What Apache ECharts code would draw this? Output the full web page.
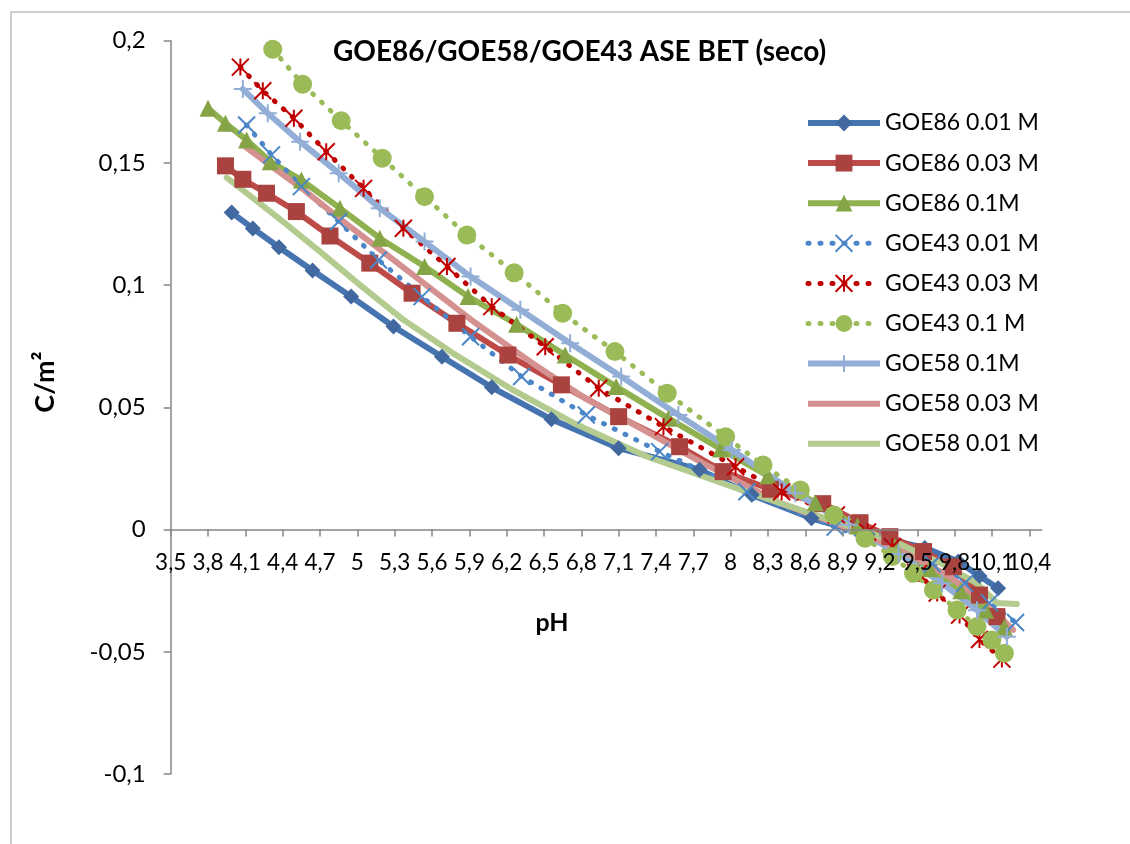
<!DOCTYPE html>
<html>
<head>
<meta charset="utf-8">
<script src="https://cdn.jsdelivr.net/npm/echarts@6/dist/echarts.min.js"></script>
<style>
  html, body { margin: 0; padding: 0; background: #ffffff; }
  #chart { width: 1130px; height: 844px; }
</style>
</head>
<body>
<div id="chart"></div>
<script>
// Surface charge density C/m² against pH, pairs of [pH, C/m²]
const goe86_001 = [[3.99,0.1297],[4.16,0.1232],[4.37,0.1155],[4.64,0.1060],[4.95,0.0953],[5.29,0.0831],[5.68,0.0707],[6.08,0.0582],[6.56,0.0451],[7.10,0.0333],[7.75,0.0245],[8.17,0.0142],[8.65,0.0046],[9.10,-0.0020],[9.56,-0.0075],[9.83,-0.0131],[10.00,-0.0190],[10.15,-0.0240]];
const goe86_003 = [[3.94,0.1488],[4.08,0.1433],[4.27,0.1376],[4.51,0.1301],[4.78,0.1201],[5.10,0.1090],[5.44,0.0967],[5.80,0.0844],[6.21,0.0714],[6.64,0.0592],[7.10,0.0462],[7.59,0.0339],[7.94,0.0237],[8.32,0.0165],[8.74,0.0106],[9.04,0.0028],[9.28,-0.0029],[9.55,-0.0090],[9.79,-0.0152],[10.00,-0.0268],[10.14,-0.0356]];
const goe86_01 = [[3.80,0.1724],[3.94,0.1662],[4.11,0.1594],[4.30,0.1505],[4.55,0.1430],[4.86,0.1315],[5.18,0.1192],[5.54,0.1076],[5.89,0.0953],[6.28,0.0840],[6.67,0.0714],[7.08,0.0585],[7.50,0.0455],[7.92,0.0330],[8.30,0.0220],[8.68,0.0110],[9.02,0.0015],[9.32,-0.0070],[9.60,-0.0160],[9.85,-0.0250],[10.05,-0.0330],[10.20,-0.0400]];
const goe43_001 = [[4.11,0.1655],[4.31,0.1533],[4.55,0.1403],[4.85,0.1260],[5.17,0.1103],[5.52,0.0953],[5.91,0.0789],[6.32,0.0626],[6.84,0.0469],[7.43,0.0319],[8.13,0.0155],[8.84,0.0010],[9.30,-0.0070],[9.62,-0.0140],[9.88,-0.0220],[10.08,-0.0300],[10.29,-0.0380]];
const goe43_003 = [[4.06,0.1892],[4.24,0.1795],[4.49,0.1683],[4.75,0.1546],[5.05,0.1396],[5.37,0.1233],[5.72,0.1076],[6.08,0.0912],[6.51,0.0748],[6.94,0.0578],[7.46,0.0421],[8.04,0.0257],[8.41,0.0155],[8.85,0.0060],[9.10,-0.0010],[9.30,-0.0070],[9.51,-0.0180],[9.66,-0.0260],[9.84,-0.0350],[10.00,-0.0450],[10.18,-0.0530]];
const goe43_01 = [[4.32,0.1965],[4.56,0.1822],[4.87,0.1673],[5.20,0.1519],[5.54,0.1362],[5.88,0.1205],[6.26,0.1051],[6.65,0.0885],[7.07,0.0728],[7.49,0.0558],[7.96,0.0380],[8.26,0.0264],[8.56,0.0162],[8.83,0.0060],[9.08,-0.0036],[9.30,-0.0110],[9.47,-0.0179],[9.63,-0.0247],[9.82,-0.0329],[9.98,-0.0397],[10.10,-0.0452],[10.20,-0.0506]];
const goe58_01 = [[4.08,0.1802],[4.28,0.1703],[4.54,0.1587],[4.85,0.1458],[5.18,0.1315],[5.54,0.1178],[5.91,0.1035],[6.31,0.0899],[6.71,0.0762],[7.12,0.0626],[7.58,0.0469],[8.01,0.0326],[8.52,0.0149],[8.95,0.0020],[9.35,-0.0100],[9.70,-0.0220],[9.98,-0.0330],[10.22,-0.0438]];
const goe58_003 = [[4.08,0.1574],[4.30,0.1490],[4.57,0.1390],[4.87,0.1267],[5.22,0.1131],[5.57,0.0994],[5.95,0.0845],[6.39,0.0687],[6.83,0.0537],[7.30,0.0408],[7.78,0.0271],[8.40,0.0108],[8.95,0.0005],[9.40,-0.0090],[9.75,-0.0190],[10.05,-0.0300],[10.27,-0.0410]];
const goe58_001 = [[3.95,0.1440],[4.18,0.1349],[4.42,0.1253],[4.70,0.1137],[5.02,0.1001],[5.37,0.0858],[5.77,0.0721],[6.25,0.0571],[6.74,0.0435],[7.33,0.0298],[8.16,0.0149],[8.80,0.0040],[9.30,-0.0045],[9.70,-0.0140],[9.98,-0.0220],[10.14,-0.0300],[10.30,-0.0305]];

const seriesNames = ['GOE86 0.01 M','GOE86 0.03 M','GOE86 0.1M','GOE43 0.01 M','GOE43 0.03 M','GOE43 0.1 M','GOE58 0.1M','GOE58 0.03 M','GOE58 0.01 M'];

// axis ranges
const xMin = 3.5, xMax = 10.5, xStep = 0.3;
const yMin = -0.1, yMax = 0.2, yStep = 0.05;

// plot box
const W = 1130, H = 844;
const gridLeft = 170.7, gridRight = 88.3, gridTop = 40.7, gridBottom = 70;
const plotH = H - gridTop - gridBottom;
// the pH axis sits on C = 0: shift it up from the bottom edge
const xAxisOffset = -((0 - yMin) / (yMax - yMin)) * plotH;

const FONT = 'Lato';
const commaDec = v => String(+(+v).toFixed(3)).replace('.', ',');

const DOT = [1, 11];
const solid = (color, w) => ({ color: color, width: w || 6, type: 'solid', cap: 'round', join: 'round' });
const dotted = color => ({ color: color, width: 5, type: DOT, cap: 'round', join: 'round' });

const crossSym = 'path://M0,0L10,10M10,0L0,10';
const starSym = 'path://M5,0L5,10M0,0L10,10M10,0L0,10';
const plusSym = 'path://M5,0L5,10M0,5L10,5';
const hidden = { color: 'rgba(0,0,0,0)', borderWidth: 0 };

const series = [
  { name: seriesNames[0], data: goe86_001, symbol: 'diamond', symbolSize: 16,
    lineStyle: solid('#4674B0'), itemStyle: { color: '#41699F' } },
  { name: seriesNames[1], data: goe86_003, symbol: 'rect', symbolSize: 17,
    lineStyle: solid('#BE4B48'), itemStyle: { color: '#AA4340' } },
  { name: seriesNames[2], data: goe86_01, symbol: 'triangle', symbolSize: 17,
    lineStyle: solid('#8FB150'), itemStyle: { color: '#84A446' } },
  { name: seriesNames[3], data: goe43_001, symbol: crossSym, symbolSize: 17,
    lineStyle: dotted('#4A86C8'), itemStyle: { color: 'rgba(0,0,0,0)', borderColor: '#4A86C8', borderWidth: 2 } },
  { name: seriesNames[4], data: goe43_003, symbol: starSym, symbolSize: 17,
    lineStyle: dotted('#C00000'), itemStyle: { color: 'rgba(0,0,0,0)', borderColor: '#C00000', borderWidth: 2 } },
  { name: seriesNames[5], data: goe43_01, symbol: 'circle', symbolSize: 19,
    lineStyle: dotted('#9BBB59'), itemStyle: { color: '#9BBB59' } },
  { name: seriesNames[6], data: goe58_01, symbol: plusSym, symbolSize: 18,
    lineStyle: solid('#93AED6'), itemStyle: { color: 'rgba(0,0,0,0)', borderColor: '#93AED6', borderWidth: 2 } },
  { name: seriesNames[7], data: goe58_003, symbol: 'circle', symbolSize: 1, showSymbol: false,
    lineStyle: solid('#D4918F'), itemStyle: hidden },
  { name: seriesNames[8], data: goe58_001, symbol: 'circle', symbolSize: 1, showSymbol: false,
    lineStyle: solid('#B3CB8E'), itemStyle: hidden }
].map(s => Object.assign({ type: 'line', showSymbol: true, animation: false, emphasis: { disabled: true } }, s));

// legend entries: thick solid or dotted sample lines
const legendData = series.map(s => ({
  name: s.name,
  lineStyle: s.lineStyle.type === 'solid'
    ? { width: 6, cap: 'butt' }
    : { width: 5, type: DOT, cap: 'round' }
}));

const chart = echarts.init(document.getElementById('chart'), null, { renderer: 'canvas' });
chart.setOption({
  backgroundColor: '#ffffff',
  animation: false,
  title: {
    text: 'GOE86/GOE58/GOE43 ASE BET (seco)',
    left: 333, top: 38, padding: 0,
    textStyle: { fontFamily: FONT, fontWeight: 'bold', fontSize: 28, color: '#000' }
  },
  legend: {
    orient: 'vertical',
    left: 805, top: 111.5, padding: 0,
    itemWidth: 72, itemHeight: 21, itemGap: 17.1,
    textStyle: { fontFamily: FONT, fontSize: 23, color: '#000' },
    data: legendData
  },
  grid: { left: gridLeft, right: gridRight, top: gridTop, bottom: gridBottom, containLabel: false },
  xAxis: {
    type: 'value', min: xMin, max: xMax, interval: xStep,
    position: 'bottom', offset: xAxisOffset, z: 10,
    axisLine: { onZero: false, lineStyle: { color: '#868686', width: 1.5 } },
    axisTick: { show: true, inside: false, length: 7, lineStyle: { color: '#868686', width: 1.5 } },
    axisLabel: { showMaxLabel: false, hideOverlap: false, margin: 22, fontFamily: FONT, fontSize: 22.5, color: '#000', formatter: commaDec },
    splitLine: { show: false }
  },
  yAxis: {
    type: 'value', min: yMin, max: yMax, interval: yStep,
    axisLine: { show: true, onZero: false, lineStyle: { color: '#868686', width: 1.5 } },
    axisTick: { show: true, inside: false, length: 7, lineStyle: { color: '#868686', width: 1.5 } },
    axisLabel: { margin: 25, fontFamily: FONT, fontSize: 24, color: '#000', formatter: commaDec },
    splitLine: { show: false }
  },
  graphic: [
    { type: 'rect', z: -10, silent: true,
      shape: { x: 11, y: 12, width: 1300, height: 1000 },
      style: { fill: 'none', stroke: '#BFBFBF', lineWidth: 1.5 } },
    { type: 'text', x: 45, y: 382, rotation: Math.PI / 2,
      style: { text: 'C/m²', fontFamily: FONT, fontWeight: 'bold', fontSize: 27, fill: '#000', align: 'center', verticalAlign: 'middle' } },
    { type: 'text', x: 552, y: 623,
      style: { text: 'pH', fontFamily: FONT, fontWeight: 'bold', fontSize: 25, fill: '#000', align: 'center', verticalAlign: 'middle' } }
  ],
  series: series
});
</script>
</body>
</html>
